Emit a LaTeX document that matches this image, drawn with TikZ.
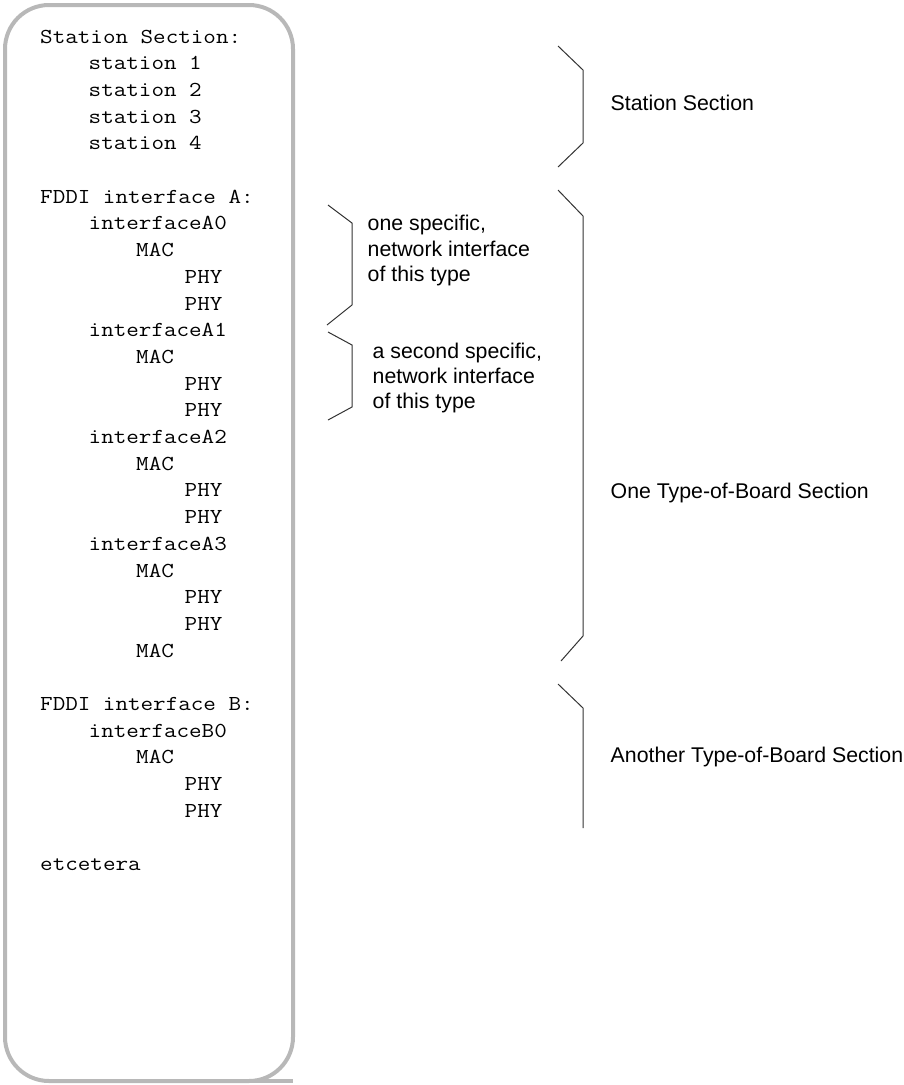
\documentclass[tikz,border=0pt]{standalone}
\usepackage{fontspec}
\setmainfont{Liberation Sans}
\newfontfamily\monofam[FakeStretch=1.145]{Latin Modern Mono}
\definecolor{boxgray}{HTML}{B8B8B8}
\definecolor{bracegray}{HTML}{333333}
\tikzset{
  code/.style={anchor=base west, inner sep=0pt, font=\monofam\fontsize{21.3}{25}\selectfont},
  label/.style={anchor=base west, inner sep=0pt, font=\fontsize{21.3}{25.3}\selectfont},
  brace/.style={draw=bracegray, line width=1pt},
  frame/.style={draw=boxgray, line width=4pt}
}
\newcommand{\mlines}[1]{\begin{tabular}[t]{@{}l@{}}#1\end{tabular}}
\begin{document}
\begin{tikzpicture}[x=1pt,y=-1pt]
\useasboundingbox (0,0) rectangle (904,1085);
% rounded frame
\draw[frame, rounded corners=44pt] (5,5) rectangle (293,1081);
\draw[boxgray, line width=4pt] (247,1081) -- (293,1081);
% code lines
\def\pitch{26.7}
\node[code] (l0)  at (40,  {43+0*\pitch})  {Station Section:};
\node[code] (l1)  at (88.5,{43+1*\pitch})  {station 1};
\node[code] (l2)  at (88.5,{43+2*\pitch})  {station 2};
\node[code] (l3)  at (88.5,{43+3*\pitch})  {station 3};
\node[code] (l4)  at (88.5,{43+4*\pitch})  {station 4};
\node[code] (l6)  at (40,  {43+6*\pitch})  {FDDI interface A:};
\node[code] (l7)  at (88.5,{43+7*\pitch})  {interfaceA0};
\node[code] (l8)  at (136, {43+8*\pitch})  {MAC};
\node[code] (l9)  at (184.5,{43+9*\pitch}) {PHY};
\node[code] (l10) at (184.5,{43+10*\pitch}) {PHY};
\node[code] (l11) at (88.5,{43+11*\pitch}) {interfaceA1};
\node[code] (l12) at (136, {43+12*\pitch}) {MAC};
\node[code] (l13) at (184.5,{43+13*\pitch}) {PHY};
\node[code] (l14) at (184.5,{43+14*\pitch}) {PHY};
\node[code] (l15) at (88.5,{43+15*\pitch}) {interfaceA2};
\node[code] (l16) at (136, {43+16*\pitch}) {MAC};
\node[code] (l17) at (184.5,{43+17*\pitch}) {PHY};
\node[code] (l18) at (184.5,{43+18*\pitch}) {PHY};
\node[code] (l19) at (88.5,{43+19*\pitch}) {interfaceA3};
\node[code] (l20) at (136, {43+20*\pitch}) {MAC};
\node[code] (l21) at (184.5,{43+21*\pitch}) {PHY};
\node[code] (l22) at (184.5,{43+22*\pitch}) {PHY};
\node[code] (l23) at (136, {43+23*\pitch}) {MAC};
\node[code] (l25) at (40,  {43+25*\pitch}) {FDDI interface B:};
\node[code] (l26) at (88.5,{43+26*\pitch}) {interfaceB0};
\node[code] (l27) at (136, {43+27*\pitch}) {MAC};
\node[code] (l28) at (184.5,{43+28*\pitch}) {PHY};
\node[code] (l29) at (184.5,{43+29*\pitch}) {PHY};
\node[code] (l31) at (40,  {43+31*\pitch}) {etcetera};
% braces
\draw[brace] (558,46) -- (583,70) -- (583,143) -- (558,167);
\draw[brace] (328,205) -- (352,223) -- (352,305) -- (327,325);
\draw[brace] (328,332) -- (352,345) -- (352,407) -- (328,420);
\draw[brace] (558,190) -- (583,216) -- (583,636) -- (561,661);
\draw[brace] (558,684) -- (583,708) -- (583,828);
% labels
\node[label] (sst) at (610.5,110) {Station Section};
\node[label] (one) at (367.5,230.7) {\mlines{one specific,\\network interface\\of this type}};
\node[label] (two) at (372.5,358.3) {\mlines{a second specific,\\network interface\\of this type}};
\node[label] (otb) at (610.5,498) {One Type-of-Board Section};
\node[label] (atb) at (610.5,762.7) {Another Type-of-Board Section};
\end{tikzpicture}
\end{document}
